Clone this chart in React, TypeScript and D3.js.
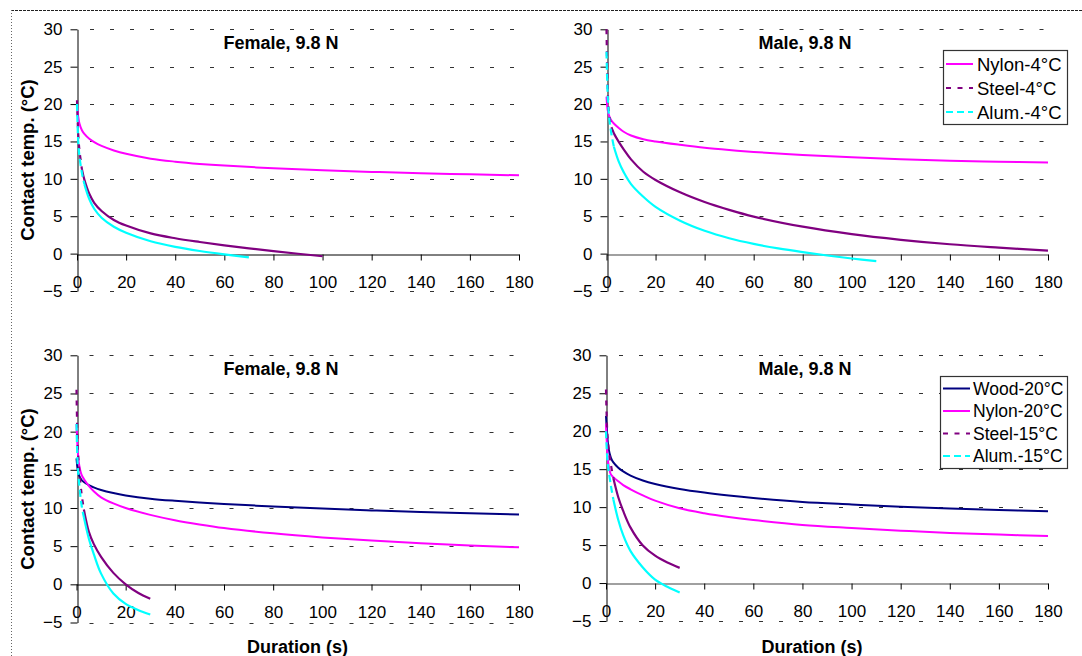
import React, { useEffect, useRef } from "react";
import * as d3 from "d3";

// time grids (s)
const tLong = [0, 0.5, 1, 2, 3, 5, 7, 10, 15, 20, 30, 40, 50, 60, 80, 100, 120, 140, 160, 180];
const t30 = [0, 0.5, 1, 2, 3, 5, 7, 10, 15, 20, 25, 30];
const t70 = [0, 0.5, 1, 2, 3, 5, 7, 10, 15, 20, 30, 40, 50, 60, 70];
const t100 = [0, 0.5, 1, 2, 3, 5, 7, 10, 15, 20, 30, 40, 50, 60, 70, 80, 90, 100];
const t110 = [0, 0.5, 1, 2, 3, 5, 7, 10, 15, 20, 30, 40, 50, 60, 70, 80, 90, 100, 110];

// Female, -4°C
const fNylon4 = [20, 18.3, 17.4, 16.5, 16.0, 15.35, 14.9, 14.4, 13.8, 13.35, 12.7, 12.3, 12.0, 11.77, 11.42, 11.15, 10.93, 10.75, 10.6, 10.47];
const fSteel4 = [20.5, 16, 13.8, 11.3, 9.9, 8.0, 6.8, 5.7, 4.5, 3.75, 2.7, 2.05, 1.55, 1.1, 0.7, 0.33, -0.02, -0.35];
const fAlum4 = [20, 15, 13, 10.8, 9.3, 7.3, 6.0, 4.8, 3.6, 2.8, 1.65, 0.9, 0.35, -0.1, -0.5];

// Male, -4°C
const mNylon4 = [21, 19.2, 18.5, 17.8, 17.4, 16.8, 16.3, 15.8, 15.3, 15.0, 14.55, 14.15, 13.85, 13.6, 13.2, 12.88, 12.62, 12.42, 12.3, 12.2];
const mSteel4 = [30, 22, 18.8, 16.9, 16.1, 14.95, 13.95, 12.6, 10.95, 9.85, 8.2, 6.9, 5.85, 4.95, 3.6, 2.6, 1.85, 1.25, 0.8, 0.4];
const mAlum4 = [27, 21, 18.5, 16, 14.3, 12.3, 10.9, 9.3, 7.6, 6.25, 4.4, 3.05, 2.05, 1.3, 0.7, 0.2, -0.25, -0.65, -1.0];

// Female, 20/15°C
const fWood20 = [16.5, 15, 14.3, 13.7, 13.4, 13.0, 12.7, 12.35, 11.95, 11.65, 11.22, 10.94, 10.72, 10.53, 10.2, 9.92, 9.68, 9.47, 9.3, 9.15];
const fNylon20 = [21, 17.5, 15.8, 14.4, 13.8, 12.9, 12.2, 11.4, 10.6, 10.0, 9.1, 8.4, 7.85, 7.38, 6.68, 6.15, 5.73, 5.38, 5.1, 4.85];
const fSteel15 = [25.5, 18, 15.5, 12, 9.8, 6.9, 5.3, 3.6, 1.5, 0, -1.1, -1.9];
const fAlum15 = [21, 15.5, 13.5, 10.5, 8.8, 6.0, 4.0, 1.4, -1.2, -2.55, -3.35, -3.95];

// Male, 20/15°C
const mWood20 = [22, 19.5, 17.8, 16.5, 15.9, 15.2, 14.7, 14.15, 13.5, 13.05, 12.4, 11.92, 11.53, 11.2, 10.68, 10.35, 10.05, 9.82, 9.62, 9.45];
const mNylon20 = [21, 17.5, 15.6, 14.3, 13.95, 13.4, 12.9, 12.35, 11.55, 10.85, 9.85, 9.2, 8.7, 8.3, 7.65, 7.25, 6.9, 6.6, 6.38, 6.2];
const mSteel15 = [25.5, 20, 18, 15.6, 13.8, 11.3, 9.5, 7.3, 4.95, 3.6, 2.7, 2.0];
const mAlum15 = [20, 16.5, 15, 12.8, 11, 8.3, 6.3, 4.2, 2.05, 0.45, -0.5, -1.25];

const xTicks = [0, 20, 40, 60, 80, 100, 120, 140, 160, 180];
const yTicks = [-5, 0, 5, 10, 15, 20, 25, 30];

const NYLON = "#FF00FF";
const STEEL = "#800080";
const ALUM = "#00FFFF";
const WOOD = "#000080";

const FONT = "'Liberation Sans', Arial, sans-serif";

const panels = [
  {
    title: "Female, 9.8 N", x0: 77, x1: 519, yTop: 29.3, yBot: 291, titleX: 281, titleY: 43,
    yLabelAt: [27.5, 160], xLabelAt: null, axisColor: "#000", legend: null,
    series: [
      { name: "Nylon-4°C", t: tLong, v: fNylon4, color: NYLON, dash: null },
      { name: "Steel-4°C", t: t100, v: fSteel4, color: STEEL, dash: "5,6" },
      { name: "Alum.-4°C", t: t70, v: fAlum4, color: ALUM, dash: "7,4" },
    ],
  },
  {
    title: "Male, 9.8 N", x0: 606.5, x1: 1048, yTop: 29.3, yBot: 291, titleX: 805, titleY: 43,
    yLabelAt: null, xLabelAt: null, axisColor: "#808080",
    legend: { x: 943, y: 50, w: 124, h: 74, first: 14, gap: 24, font: 18.5, tx: 34 },
    series: [
      { name: "Nylon-4°C", t: tLong, v: mNylon4, color: NYLON, dash: null },
      { name: "Steel-4°C", t: tLong, v: mSteel4, color: STEEL, dash: "5,6" },
      { name: "Alum.-4°C", t: t110, v: mAlum4, color: ALUM, dash: "7,4" },
    ],
  },
  {
    title: "Female, 9.8 N", x0: 76.5, x1: 519, yTop: 355.3, yBot: 622.5, titleX: 281, titleY: 369,
    yLabelAt: [27.5, 489], xLabelAt: [297.5, 647], axisColor: "#000", legend: null,
    series: [
      { name: "Wood-20°C", t: tLong, v: fWood20, color: WOOD, dash: null },
      { name: "Nylon-20°C", t: tLong, v: fNylon20, color: NYLON, dash: null },
      { name: "Steel-15°C", t: t30, v: fSteel15, color: STEEL, dash: "5,6" },
      { name: "Alum.-15°C", t: t30, v: fAlum15, color: ALUM, dash: "7,4" },
    ],
  },
  {
    title: "Male, 9.8 N", x0: 606, x1: 1048, yTop: 355.3, yBot: 621, titleX: 805, titleY: 369,
    yLabelAt: null, xLabelAt: [812, 647], axisColor: "#808080",
    legend: { x: 940, y: 376, w: 127, h: 92, first: 12.5, gap: 22.5, font: 17.5, tx: 33 },
    series: [
      { name: "Wood-20°C", t: tLong, v: mWood20, color: WOOD, dash: null },
      { name: "Nylon-20°C", t: tLong, v: mNylon20, color: NYLON, dash: null },
      { name: "Steel-15°C", t: t30, v: mSteel15, color: STEEL, dash: "5,6" },
      { name: "Alum.-15°C", t: t30, v: mAlum15, color: ALUM, dash: "7,4" },
    ],
  },
];

// where the curve gets flat enough that the dash pattern no longer shows
function dashEnd(t, v) {
  for (let i = 0; i < t.length - 1; i++) {
    const s = Math.abs(v[i + 1] - v[i]) / (t[i + 1] - t[i]);
    if (s < 1.5) return i;
  }
  return t.length - 1;
}

export default function App() {
  const svgRef = useRef(null);

  useEffect(() => {
    const svg = d3.select(svgRef.current);
    svg.selectAll("*").remove();

    // outer frame
    svg.append("line").attr("x1", 11).attr("x2", 1082).attr("y1", 10.5).attr("y2", 10.5)
      .attr("stroke", "#222").attr("stroke-dasharray", "3,1");
    svg.append("line").attr("x1", 11.5).attr("x2", 11.5).attr("y1", 10).attr("y2", 656)
      .attr("stroke", "#666").attr("stroke-dasharray", "1,2");

    panels.forEach((p) => {
      const x = d3.scaleLinear().domain([0, 180]).range([p.x0, p.x1]);
      const y = d3.scaleLinear().domain([-5, 30]).range([p.yBot, p.yTop]);
      const g = svg.append("g");

      // dashed gridlines
      g.selectAll(".grid")
        .data(yTicks.filter((d) => d !== 0))
        .join("line")
        .attr("x1", x(0)).attr("x2", x(180))
        .attr("y1", (d) => Math.round(y(d)) + 0.5).attr("y2", (d) => Math.round(y(d)) + 0.5)
        .attr("stroke", "#333")
        .attr("stroke-dasharray", "4,16")
        .attr("stroke-dashoffset", 7);

      // x axis crossing at 0
      const xAxis = g.append("g")
        .attr("transform", `translate(0,${Math.round(y(0)) + 0.5})`)
        .call(d3.axisBottom(x).tickValues(xTicks).tickSize(6).tickSizeOuter(0).tickPadding(15));
      xAxis.select(".domain").attr("stroke", p.axisColor).attr("stroke-width", p.axisColor === "#000" ? 1 : 1.6);
      xAxis.selectAll(".tick line").attr("stroke", "#000");
      xAxis.selectAll("text").attr("font-size", 17).attr("font-family", FONT).attr("fill", "#000");

      // y axis
      const yAxis = g.append("g")
        .attr("transform", `translate(${Math.round(x(0)) + 0.5},0)`)
        .call(d3.axisLeft(y).tickValues(yTicks).tickSize(7).tickSizeOuter(0).tickPadding(8));
      yAxis.select(".domain").attr("stroke", "#000");
      yAxis.selectAll(".tick line").attr("stroke", "#000");
      yAxis.selectAll("text").attr("font-size", 17).attr("font-family", FONT).attr("fill", "#000");

      // series
      const line = d3.line().x((d) => x(d[0])).y((d) => y(d[1])).curve(d3.curveCatmullRom.alpha(0.5));
      p.series.forEach((s) => {
        const pts = s.t.map((t, i) => [t, s.v[i]]);
        if (s.dash) {
          const k = dashEnd(s.t, s.v);
          g.append("path").attr("d", line(pts.slice(0, k + 1)))
            .attr("fill", "none").attr("stroke", s.color).attr("stroke-width", 2.2)
            .attr("stroke-dasharray", s.dash);
          g.append("path").attr("d", line(pts.slice(k)))
            .attr("fill", "none").attr("stroke", s.color).attr("stroke-width", 2.2);
        } else {
          g.append("path").attr("d", line(pts))
            .attr("fill", "none").attr("stroke", s.color).attr("stroke-width", 2);
        }
      });

      // title
      g.append("text")
        .attr("x", p.titleX).attr("y", p.titleY)
        .attr("text-anchor", "middle").attr("dominant-baseline", "central")
        .attr("font-family", FONT).attr("font-weight", "bold").attr("font-size", 18)
        .text(p.title);

      if (p.yLabelAt) {
        g.append("text")
          .attr("transform", `translate(${p.yLabelAt[0]},${p.yLabelAt[1]}) rotate(-90)`)
          .attr("text-anchor", "middle").attr("dominant-baseline", "central")
          .attr("font-family", FONT).attr("font-weight", "bold").attr("font-size", 18.5)
          .text("Contact temp. (°C)");
      }
      if (p.xLabelAt) {
        g.append("text")
          .attr("x", p.xLabelAt[0]).attr("y", p.xLabelAt[1])
          .attr("text-anchor", "middle").attr("dominant-baseline", "central")
          .attr("font-family", FONT).attr("font-weight", "bold").attr("font-size", 18)
          .text("Duration (s)");
      }

      // legend
      if (p.legend) {
        const L = p.legend;
        const lg = g.append("g");
        lg.append("rect")
          .attr("x", L.x + 0.5).attr("y", L.y + 0.5).attr("width", L.w).attr("height", L.h)
          .attr("fill", "#fff").attr("stroke", "#333").attr("stroke-width", 1.2);
        p.series.forEach((s, i) => {
          const ry = L.y + L.first + i * L.gap;
          lg.append("line")
            .attr("x1", L.x + 3).attr("x2", L.x + 30).attr("y1", ry).attr("y2", ry)
            .attr("stroke", s.color).attr("stroke-width", 2)
            .attr("stroke-dasharray", s.dash ? (s.color === STEEL ? "5,6.5" : "7,4") : null);
          lg.append("text")
            .attr("x", L.x + L.tx).attr("y", ry)
            .attr("dominant-baseline", "central")
            .attr("font-family", FONT).attr("font-size", L.font)
            .text(s.name);
        });
      }
    });
  }, []);

  return (
    <svg
      ref={svgRef}
      width={1082}
      height={656}
      style={{ position: "absolute", left: 0, top: 0, display: "block", background: "#fff" }}
    />
  );
}
